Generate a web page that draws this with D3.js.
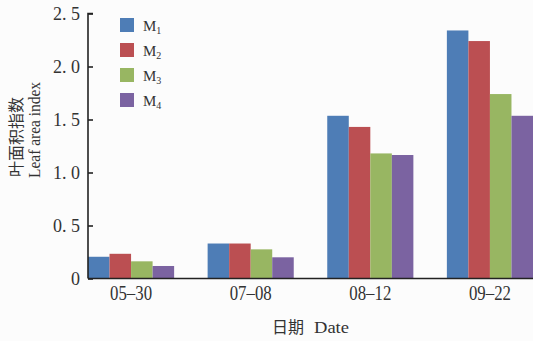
<!DOCTYPE html>
<html><head><meta charset="utf-8">
<script src="https://cdn.jsdelivr.net/npm/d3@7"></script>
<style>
html,body{margin:0;padding:0;background:#fcfcfc;}
svg{display:block;}
.serif{font-family:"Liberation Serif","Times New Roman",serif;}
.cjk{font-family:"Noto Sans CJK SC",sans-serif;}
</style>
</head><body>
<svg id="chart" width="533" height="341"></svg>
<script>
const categories = ["05\u201330", "07\u201308", "08\u201312", "09\u201322"];
const seriesNames = ["M1", "M2", "M3", "M4"];
const seriesSubs = ["1", "2", "3", "4"];
const M1 = [0.205, 0.33, 1.535, 2.34];
const M2 = [0.233, 0.33, 1.43, 2.24];
const M3 = [0.162, 0.275, 1.18, 1.74];
const M4 = [0.118, 0.20, 1.165, 1.535];
const yTicks = [0, 0.5, 1.0, 1.5, 2.0, 2.5];
const yTickLabels = ["0", "0. 5", "1. 0", "1. 5", "2. 0", "2. 5"];
const colors = ["#4e7db6", "#bb4f52", "#98b662", "#7b63a1"];
const series = [M1, M2, M3, M4];

const svg = d3.select("#chart");
const x0 = d3.scaleBand().domain(categories).range([88, 533]).paddingInner(0.28).paddingOuter(0);
const x1 = d3.scaleBand().domain(seriesNames).range([0, x0.bandwidth()]);
const y = d3.scaleLinear().domain([0, 2.5]).range([278.5, 13.5]);

// bars
categories.forEach((c, ci) => {
  const g = svg.append("g").attr("transform", `translate(${x0(c)},0)`);
  seriesNames.forEach((s, si) => {
    const v = series[si][ci];
    g.append("rect")
      .attr("x", x1(s))
      .attr("y", y(v))
      .attr("width", x1.bandwidth())
      .attr("height", y(0) - y(v))
      .attr("fill", colors[si]);
  });
});

// y axis
const yAxis = d3.axisRight(y).tickValues(yTicks).tickSize(5).tickFormat("");
const ya = svg.append("g").attr("transform", "translate(88,0)").call(yAxis);
ya.select(".domain").attr("stroke", "#222").attr("stroke-width", 1.6).attr("d", `M5,${y(2.5)}H0V${y(0)}`);
ya.selectAll(".tick line").attr("stroke", "#222").attr("stroke-width", 1.6);
svg.append("g").selectAll("text").data(yTicks).join("text")
  .attr("class", "serif")
  .attr("x", 80).attr("y", d => y(d) + 6)
  .attr("text-anchor", "end")
  .attr("font-size", 18).attr("fill", "#333")
  .text((d, i) => yTickLabels[i]);

// x axis
const xAxis = d3.axisBottom(x0).tickSize(0).tickPadding(0);
const xa = svg.append("g").attr("transform", `translate(0,${y(0)})`).call(xAxis);
xa.attr("font-family", null).attr("font-size", null);
xa.select(".domain").attr("stroke", "#222").attr("stroke-width", 1.6).attr("d", "M88,0H533");
xa.selectAll(".tick text")
  .attr("class", "serif")
  .attr("y", 21)
  .attr("dy", 0)
  .attr("font-size", 20).attr("fill", "#333")
  .attr("textLength", 42).attr("lengthAdjust", "spacingAndGlyphs");

// x title
svg.append("text").attr("class", "cjk").attr("x", 272).attr("y", 333)
  .attr("font-size", 16).attr("fill", "#333").text("日期");
svg.append("text").attr("class", "serif").attr("x", 314).attr("y", 333)
  .attr("font-size", 17).attr("fill", "#333")
  .attr("textLength", 35).attr("lengthAdjust", "spacingAndGlyphs").text("Date");

// y title
svg.append("text").attr("class", "cjk").attr("transform", "translate(18,177) rotate(-90)")
  .attr("font-size", 16).attr("fill", "#333")
  .attr("dominant-baseline", "middle")
  .text("叶面积指数");
svg.append("text").attr("class", "serif").attr("transform", "translate(40,178) rotate(-90)")
  .attr("font-size", 17).attr("fill", "#333")
  .attr("textLength", 96).attr("lengthAdjust", "spacingAndGlyphs")
  .text("Leaf area index");

// legend
const lg = svg.append("g");
seriesNames.forEach((s, i) => {
  lg.append("rect").attr("x", 120).attr("y", 18 + i * 25).attr("width", 14).attr("height", 14).attr("fill", colors[i]);
  const t = lg.append("text").attr("class", "serif").attr("x", 143).attr("y", 31 + i * 25)
    .attr("font-size", 15).attr("fill", "#333");
  t.append("tspan").text("M");
  t.append("tspan").attr("font-size", 10).attr("dy", 3).text(seriesSubs[i]);
});
</script>
</body></html>
